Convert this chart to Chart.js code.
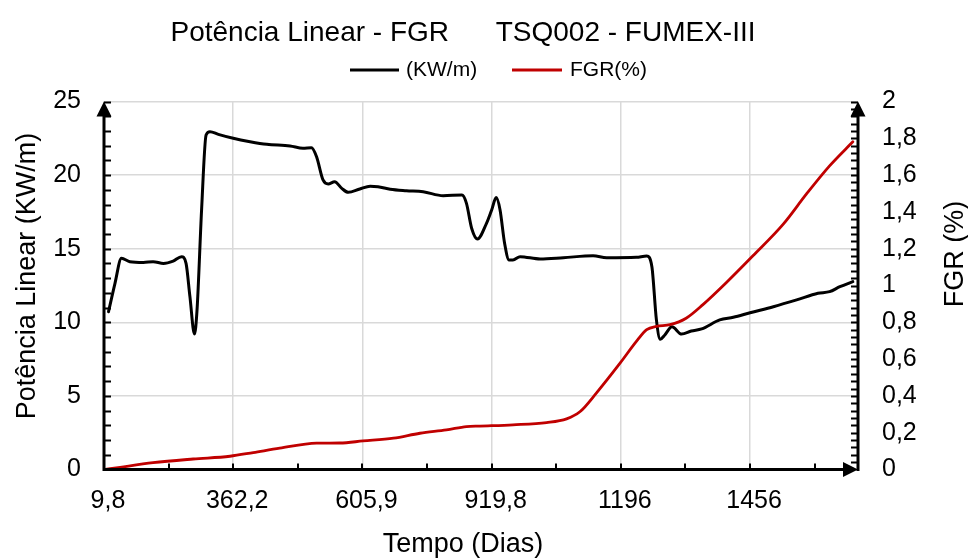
<!DOCTYPE html>
<html>
<head>
<meta charset="utf-8">
<script src="https://cdn.jsdelivr.net/npm/chart.js@4.4.0/dist/chart.umd.min.js"></script>
<style>
html,body{margin:0;padding:0;background:#fff}
#grafico{display:block}
</style>
</head>
<body>
<canvas id="grafico" width="968" height="558"></canvas>
<script>
// eixo X: índice da amostra, um rótulo a cada 20 amostras
const rotulosTempo = ['9,8','362,2','605,9','919,8','1196','1456'];
const passoRotulo = 20;
const xMax = 116.7;

// potência linear (KW/m)
const posPotencia = [0.7,1.7,2.7,4.0,6.1,7.6,9.2,10.7,12.0,12.7,13.3,14.0,14.4,15.1,15.8,16.4,17.7,20.0,22.6,25.2,
  28.8,30.8,32.1,32.9,33.9,34.7,35.7,36.8,37.8,39.6,41.2,42.4,44.3,46.8,49.4,52.5,55.4,56.1,56.9,57.8,
  59.2,60.0,60.7,61.3,62.0,62.7,63.3,64.4,67.5,71.1,75.7,77.8,82.4,84.0,84.8,85.5,86.1,86.8,87.9,89.4,
  90.9,92.5,95.3,97.4,100.0,103.6,107.2,110.5,112.3,113.9,115.9];
const potencia = [10.72,12.65,14.35,14.12,14.07,14.12,14.0,14.16,14.46,14.0,11.74,9.2,10.84,17.6,22.72,22.95,22.77,22.5,22.27,22.09,
  21.98,21.82,21.86,21.25,19.67,19.4,19.55,19.1,18.83,19.06,19.24,19.21,19.04,18.94,18.87,18.6,18.65,18.08,16.39,15.66,
  16.72,17.63,18.47,17.63,15.37,14.23,14.23,14.46,14.3,14.39,14.52,14.39,14.42,14.5,13.78,10.16,8.85,9.14,9.7,9.2,
  9.41,9.55,10.16,10.34,10.65,11.06,11.52,11.97,12.08,12.42,12.76];

// FGR (%)
const posFgr = [0.2,2.5,7.6,13.8,19.5,23.1,27.2,32.9,36.5,40.1,44.8,48.9,53.0,56.1,58.2,63.3,68.5,71.6,73.7,76.2,
  79.9,82.4,84.0,85.5,87.6,90.1,92.7,96.3,100.4,105.1,108.7,112.3,115.9];
const fgr = [0,0.012,0.037,0.057,0.072,0.092,0.116,0.143,0.144,0.155,0.17,0.197,0.215,0.233,0.236,0.243,0.255,0.275,0.315,0.415,
  0.579,0.696,0.76,0.778,0.787,0.822,0.896,1.015,1.16,1.332,1.496,1.65,1.781];

const FONTE = "'Liberation Sans', Arial, sans-serif";
const PRETO = '#000000';
const VERMELHO = '#c00000';

const virgula = v => String(Number(v.toFixed(1))).replace('.', ',');

// eixos com setas, marcas menores, título, legenda e títulos dos eixos
const decoracao = {
  id: 'decoracao',
  afterDraw(chart) {
    const ctx = chart.ctx;
    const a = chart.chartArea;
    const sx = chart.scales.x, sy = chart.scales.y, sy1 = chart.scales.y1;
    ctx.save();
    ctx.strokeStyle = PRETO;
    ctx.fillStyle = PRETO;

    // marcas
    ctx.lineWidth = 2;
    ctx.beginPath();
    for (let v = 1; v <= 25; v++) {
      const y = Math.round(sy.getPixelForValue(v)) + 0.5;
      ctx.moveTo(a.left, y); ctx.lineTo(a.left + 7, y);
    }
    for (let i = 1; i <= 50; i++) {
      const y = Math.round(sy1.getPixelForValue(i * 0.04)) + 0.5;
      ctx.moveTo(a.right, y); ctx.lineTo(a.right - 7, y);
    }
    for (let v = passoRotulo / 2; v < xMax; v += passoRotulo / 2) {
      const x = Math.round(sx.getPixelForValue(v));
      ctx.moveTo(x, a.bottom); ctx.lineTo(x, a.bottom - 6);
    }
    ctx.stroke();

    // linhas dos eixos
    ctx.lineWidth = 3;
    ctx.beginPath();
    ctx.moveTo(a.left, a.bottom + 1.5); ctx.lineTo(a.left, a.top + 8);
    ctx.moveTo(a.right, a.bottom + 1.5); ctx.lineTo(a.right, a.top + 8);
    ctx.moveTo(a.left - 1.5, a.bottom); ctx.lineTo(a.right - 8, a.bottom);
    ctx.stroke();

    // setas
    const seta = (pts) => { ctx.beginPath(); ctx.moveTo(...pts[0]); ctx.lineTo(...pts[1]); ctx.lineTo(...pts[2]); ctx.closePath(); ctx.fill(); };
    seta([[a.left, a.top], [a.left - 7.5, a.top + 15], [a.left + 7.5, a.top + 15]]);
    seta([[a.right, a.top], [a.right - 7.5, a.top + 15], [a.right + 7.5, a.top + 15]]);
    seta([[a.right, a.bottom], [a.right - 15, a.bottom - 7.5], [a.right - 15, a.bottom + 7.5]]);

    // título
    ctx.textBaseline = 'middle';
    ctx.textAlign = 'center';
    ctx.font = '28px ' + FONTE;
    ctx.fillText('Potência Linear - FGR      TSQ002 - FUMEX-III', 463, 33);

    // legenda
    ctx.font = '21px ' + FONTE;
    ctx.textAlign = 'left';
    ctx.lineWidth = 3;
    ctx.beginPath(); ctx.moveTo(350, 70); ctx.lineTo(399, 70); ctx.stroke();
    ctx.fillText('(KW/m)', 406, 70);
    ctx.strokeStyle = VERMELHO;
    ctx.beginPath(); ctx.moveTo(512, 70); ctx.lineTo(562, 70); ctx.stroke();
    ctx.fillText('FGR(%)', 570, 70);

    // títulos dos eixos
    ctx.textAlign = 'center';
    ctx.font = '27px ' + FONTE;
    ctx.fillText('Tempo (Dias)', 463, 545);
    ctx.save();
    ctx.translate(28, 276); ctx.rotate(-Math.PI / 2);
    ctx.fillText('Potência Linear (KW/m)', 0, 0);
    ctx.restore();
    ctx.save();
    ctx.translate(956, 254); ctx.rotate(-Math.PI / 2);
    ctx.fillText('FGR (%)', 0, 0);
    ctx.restore();
    ctx.restore();
  }
};

new Chart(document.getElementById('grafico'), {
  type: 'line',
  data: {
    datasets: [
      {
        label: '(KW/m)',
        data: posPotencia.map((x, i) => ({ x, y: potencia[i] })),
        yAxisID: 'y',
        borderColor: PRETO,
        borderWidth: 3,
        order: 2
      },
      {
        label: 'FGR(%)',
        data: posFgr.map((x, i) => ({ x, y: fgr[i] })),
        yAxisID: 'y1',
        borderColor: VERMELHO,
        borderWidth: 2.8,
        order: 1
      }
    ]
  },
  options: {
    responsive: false,
    animation: false,
    devicePixelRatio: 1,
    layout: { padding: { top: 101.5 } },
    elements: {
      point: { radius: 0 },
      line: { cubicInterpolationMode: 'monotone', borderCapStyle: 'round', borderJoinStyle: 'round' }
    },
    plugins: { legend: { display: false }, tooltip: { enabled: false } },
    scales: {
      x: {
        type: 'linear',
        min: 0,
        max: xMax,
        afterBuildTicks: s => { s.ticks = rotulosTempo.map((_, i) => ({ value: i * passoRotulo })); },
        afterFit: s => { s.height = 558 - 469.5; },
        ticks: {
          callback: (v, i) => rotulosTempo[i],
          font: { family: FONTE, size: 25 },
          color: PRETO,
          padding: 17,
          maxRotation: 0,
          labelOffset: 4
        },
        grid: { color: '#d9d9d9', lineWidth: 1.5, drawTicks: false },
        border: { display: false }
      },
      y: {
        position: 'left',
        min: 0,
        max: 25,
        afterFit: s => { s.width = 104; },
        ticks: { stepSize: 5, font: { family: FONTE, size: 25 }, color: PRETO, padding: 23 },
        grid: { color: '#d9d9d9', lineWidth: 1.5, drawTicks: false },
        border: { display: false }
      },
      y1: {
        position: 'right',
        min: 0,
        max: 2,
        afterFit: s => { s.width = 968 - 858; },
        ticks: { stepSize: 0.2, callback: v => virgula(v), font: { family: FONTE, size: 25 }, color: PRETO, padding: 24 },
        grid: { drawOnChartArea: false, drawTicks: false },
        border: { display: false }
      }
    }
  },
  plugins: [decoracao]
});
</script>
</body>
</html>
